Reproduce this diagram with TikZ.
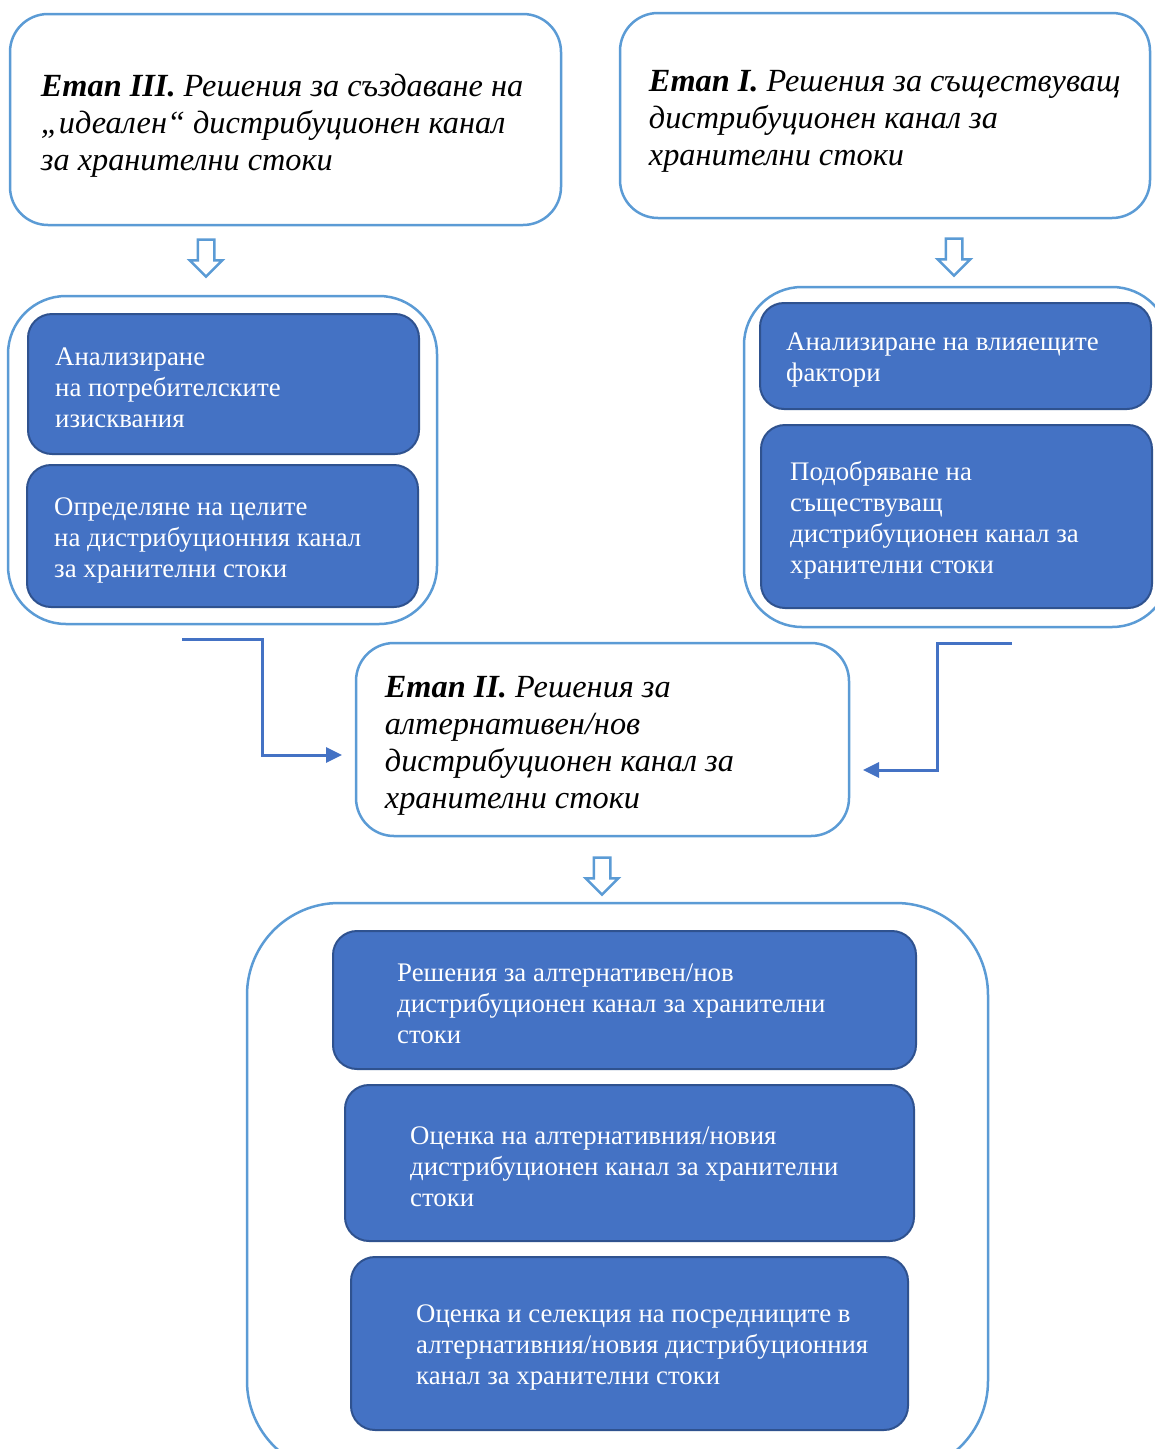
\documentclass[tikz,border=0pt]{standalone}
\usepackage{fontspec}
\setmainfont{Liberation Serif}
\usetikzlibrary{positioning,shapes.arrows,arrows.meta}
\definecolor{lineblue}{RGB}{91,155,213}
\definecolor{boxblue}{RGB}{68,114,196}
\definecolor{darkblue}{RGB}{47,82,143}
\tikzset{
  whitebox/.style={draw=lineblue, line width=2.5pt, fill=white, rounded corners=38pt},
  groupbox/.style={draw=lineblue, line width=2.5pt, fill=white, rounded corners=58pt},
  bluebox/.style={draw=darkblue, line width=2pt, fill=boxblue, rounded corners=24pt},
  etaptext/.style={font=\fontsize{32.3}{37}\selectfont\itshape, align=left, inner sep=0pt, yshift=-6pt},
  bluetext/.style={font=\fontsize{26.8}{31}\selectfont, text=white, align=left, inner sep=0pt, yshift=-4pt},
  hollow/.style={single arrow, draw=lineblue, line width=2.5pt, fill=white,
    shape border rotate=270, minimum height=37pt, inner sep=7pt,
    single arrow head extend=8pt, single arrow head indent=0pt},
  conn/.style={draw=boxblue, line width=3pt, -{Triangle[length=16pt,width=15pt]}}
}
\begin{document}
\begin{tikzpicture}[x=1pt, y=-1pt]
  \useasboundingbox (0,0) rectangle (1155,1449);
  \clip (0,0) rectangle (1155,1449);

  % top boxes
  \node[whitebox, minimum width=551pt, minimum height=211pt] (etap3) at (285.5,119.5) {};
  \node[etaptext, right=32pt of etap3.west] (etap3t)
    {{\bfseries Етап III.} Решения за създаване на\\„идеален“ дистрибуционен канал\\за хранителни стоки};
  \node[whitebox, minimum width=530pt, minimum height=205pt] (etap1) at (885,115.5) {};
  \node[etaptext, right=30pt of etap1.west] (etap1t)
    {{\bfseries Етап I.} Решения за съществуващ\\дистрибуционен канал за\\хранителни стоки};

  \node[hollow] (arr3) at (206,254) {};
  \node[hollow] (arr1) at (954,253) {};

  % left group
  \node[groupbox, minimum width=429pt, minimum height=328pt] (grpL) at (222.5,460) {};
  \node[bluebox, minimum width=391pt, minimum height=140pt] (L1) at (223.5,384) {};
  \node[bluetext, right=28pt of L1.west] (L1t) {Анализиране\\на потребителските\\изисквания};
  \node[bluebox, minimum width=391pt, minimum height=142pt] (L2) at (222.5,536) {};
  \node[bluetext, right=28pt of L2.west] (L2t) {Определяне на целите\\на дистрибуционния канал\\за хранителни стоки};

  % right group
  \node[groupbox, minimum width=426pt, minimum height=340pt] (grpR) at (957,457) {};
  \node[bluebox, minimum width=391pt, minimum height=106pt] (R1) at (955.5,356) {};
  \node[bluetext, right=27pt of R1.west] (R1t) {Анализиране на влияещите\\фактори};
  \node[bluebox, minimum width=391pt, minimum height=183pt] (R2) at (956.5,516.5) {};
  \node[bluetext, right=30pt of R2.west] (R2t) {Подобряване на\\съществуващ\\дистрибуционен канал за\\хранителни стоки};

  % middle box
  \node[whitebox, minimum width=493pt, minimum height=193pt] (etap2) at (602.5,739.5) {};
  \node[etaptext, right=30pt of etap2.west] (etap2t)
    {{\bfseries Етап II.} Решения за\\алтернативен/нов\\дистрибуционен канал за\\хранителни стоки};

  \coordinate (lout) at (182,639);
  \coordinate (lin) at (342,755);
  \coordinate (rout) at (1012,643);
  \coordinate (rin) at (863,770);
  \draw[conn] (lout) -- ++(80,0) |- (lin);
  \draw[conn] (rout) -- ++(-75,0) |- (rin);

  \node[hollow] (arr2) at (602,872) {};

  % bottom group
  \node[groupbox, rounded corners=92pt, minimum width=741pt, minimum height=570pt] (grpB) at (617.5,1188) {};
  \node[bluebox, minimum width=583pt, minimum height=138pt] (B1) at (624.5,1000) {};
  \node[bluetext, right=65pt of B1.west] (B1t) {Решения за алтернативен/нов\\дистрибуционен канал за хранителни\\стоки};
  \node[bluebox, minimum width=569pt, minimum height=156pt] (B2) at (629.5,1163) {};
  \node[bluetext, right=66pt of B2.west] (B2t) {Оценка на алтернативния/новия\\дистрибуционен канал за хранителни\\стоки};
  \node[bluebox, minimum width=557pt, minimum height=173pt] (B3) at (629.5,1343.5) {};
  \node[bluetext, right=66pt of B3.west] (B3t) {Оценка и селекция на посредниците в\\алтернативния/новия дистрибуционния\\канал за хранителни стоки};
\end{tikzpicture}
\end{document}
